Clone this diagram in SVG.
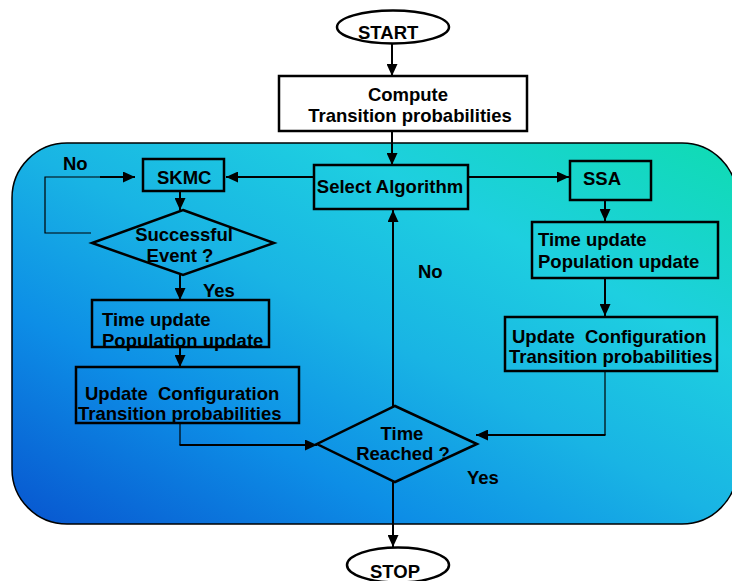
<svg xmlns="http://www.w3.org/2000/svg" width="732" height="581" viewBox="0 0 732 581">
  <defs>
    <linearGradient id="panelFill" x1="0" y1="1" x2="1" y2="0">
      <stop offset="0" stop-color="#0855cf"/>
      <stop offset="0.28" stop-color="#0d8ee6"/>
      <stop offset="0.5" stop-color="#19b4e4"/>
      <stop offset="0.72" stop-color="#1ecfe0"/>
      <stop offset="1" stop-color="#0fdcb2"/>
    </linearGradient>
    <marker id="arrow" markerUnits="userSpaceOnUse" markerWidth="13" markerHeight="11" refX="12" refY="5.5" orient="auto">
      <path d="M0,0 L12,5.5 L0,11 z" fill="#000"/>
    </marker>
  </defs>
  <style>
    .box { fill: none; stroke: #000; stroke-width: 2.5; }
    .term { fill: #fff; stroke: #000; stroke-width: 2.5; }
    .lbl { font-family: "Liberation Sans", Arial, sans-serif; font-weight: bold; font-size: 18.5px; fill: #000; }
    .mid { text-anchor: middle; }
    .conn { fill: none; stroke: #000; stroke-width: 2; }
    .thin { fill: none; stroke: #000; stroke-width: 1.2; }
  </style>

  <rect width="732" height="581" fill="#fff"/>

  <!-- gradient panel behind the loop -->
  <rect id="panel" x="12" y="143" width="725" height="381" rx="55" ry="55" fill="url(#panelFill)" stroke="#000" stroke-width="1.5"/>

  <g id="connectors">
    <line class="conn" x1="392" y1="44" x2="392" y2="76" marker-end="url(#arrow)"/>
    <line class="conn" x1="392" y1="131" x2="392" y2="165" marker-end="url(#arrow)"/>
    <line class="conn" x1="314" y1="177" x2="226" y2="177" marker-end="url(#arrow)"/>
    <line class="conn" x1="468" y1="177" x2="569" y2="177" marker-end="url(#arrow)"/>
    <line class="conn" x1="180" y1="191" x2="180" y2="210" marker-end="url(#arrow)"/>
    <polyline class="thin" points="91,233 45,233 45,177 110,177"/>
    <line class="conn" x1="100" y1="177" x2="135" y2="177" marker-end="url(#arrow)"/>
    <line class="conn" x1="180" y1="275" x2="180" y2="300" marker-end="url(#arrow)"/>
    <line class="conn" x1="180" y1="347" x2="180" y2="367" marker-end="url(#arrow)"/>
    <line class="thin" x1="180" y1="423" x2="180" y2="445"/>
    <line class="conn" x1="179.5" y1="445" x2="317" y2="445" marker-end="url(#arrow)"/>
    <line class="conn" x1="605" y1="200" x2="605" y2="221" marker-end="url(#arrow)"/>
    <line class="conn" x1="605" y1="278" x2="605" y2="316" marker-end="url(#arrow)"/>
    <line class="thin" x1="605" y1="371" x2="605" y2="435"/>
    <line class="conn" x1="605.5" y1="435" x2="476" y2="435" marker-end="url(#arrow)"/>
    <line class="conn" x1="393" y1="406" x2="393" y2="210" marker-end="url(#arrow)"/>
    <line class="conn" x1="393" y1="482" x2="393" y2="547" marker-end="url(#arrow)"/>
  </g>

  <g id="start">
    <ellipse class="term" cx="393" cy="27" rx="56" ry="16.5"/>
    <text class="lbl" x="358" y="39">START</text>
  </g>

  <g id="compute">
    <rect class="term" x="279" y="76" width="248" height="55"/>
    <text class="lbl mid" x="408" y="101">Compute</text>
    <text class="lbl mid" x="410" y="122">Transition probabilities</text>
  </g>

  <g id="select">
    <rect class="box" x="314" y="165" width="154" height="44"/>
    <text class="lbl mid" x="390" y="193">Select Algorithm</text>
  </g>

  <g id="skmc">
    <rect class="box" x="143" y="159" width="81" height="32"/>
    <text class="lbl" x="157" y="184">SKMC</text>
  </g>

  <g id="successful">
    <polygon class="box" points="183,210 274,243 183,275 92,243"/>
    <text class="lbl mid" x="184" y="241">Successful</text>
    <text class="lbl mid" x="180" y="262">Event ?</text>
  </g>

  <g id="skmc-update-time">
    <rect class="box" x="92" y="300" width="177" height="47"/>
    <text class="lbl" x="102" y="326">Time update</text>
    <text class="lbl" x="102" y="347">Population update</text>
  </g>

  <g id="skmc-update-config">
    <rect class="box" x="76" y="367" width="223" height="56"/>
    <text class="lbl" x="85" y="400" xml:space="preserve">Update  Configuration</text>
    <text class="lbl" x="78" y="420">Transition probabilities</text>
  </g>

  <g id="ssa">
    <rect class="box" x="570" y="161" width="81" height="39"/>
    <text class="lbl" x="583" y="185">SSA</text>
  </g>

  <g id="ssa-update-time">
    <rect class="box" x="532" y="222" width="186" height="56"/>
    <text class="lbl" x="538" y="246">Time update</text>
    <text class="lbl" x="538" y="268">Population update</text>
  </g>

  <g id="ssa-update-config">
    <rect class="box" x="505" y="317" width="212" height="54"/>
    <text class="lbl" x="512" y="343" xml:space="preserve">Update  Configuration</text>
    <text class="lbl" x="509" y="363">Transition probabilities</text>
  </g>

  <g id="time-reached">
    <polygon class="box" points="395,406 477,444 395,482 317,444"/>
    <text class="lbl mid" x="402" y="440">Time</text>
    <text class="lbl mid" x="403" y="460">Reached ?</text>
  </g>

  <g id="stop">
    <ellipse class="term" cx="398" cy="565" rx="51" ry="17.5"/>
    <text class="lbl" x="370" y="578">STOP</text>
  </g>

  <g id="branch-labels">
    <text class="lbl" x="63" y="170">No</text>
    <text class="lbl" x="203" y="297">Yes</text>
    <text class="lbl" x="418" y="278">No</text>
    <text class="lbl" x="467" y="484">Yes</text>
  </g>
</svg>
